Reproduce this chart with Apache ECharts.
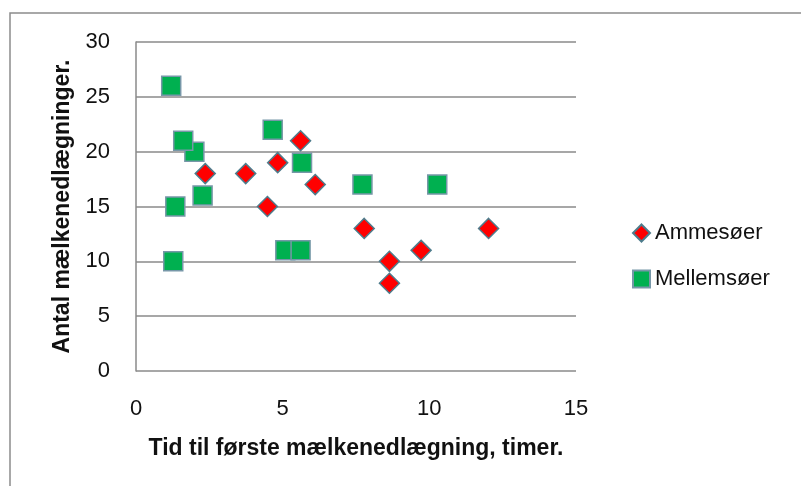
<!DOCTYPE html>
<html>
<head>
<meta charset="utf-8">
<script src="https://cdn.jsdelivr.net/npm/echarts@6/dist/echarts.min.js"></script>
<style>
  html, body { margin: 0; padding: 0; background: #fff; }
  #chart { width: 801px; height: 486px; }
</style>
</head>
<body>
<div id="chart"></div>
<script>
  // data: [timer, antal]
  var seriesNames = ['Ammesøer', 'Mellemsøer'];
  var ammesoer = [
    [2.36, 18], [3.74, 18], [4.83, 19], [5.61, 21], [6.11, 17], [4.48, 15],
    [7.78, 13], [8.64, 10], [8.64, 8], [9.72, 11], [12.02, 13]
  ];
  var mellemsoer = [
    [1.2, 26], [1.99, 20], [1.61, 21], [4.66, 22], [5.66, 19], [2.27, 16],
    [1.34, 15], [1.27, 10], [5.09, 11], [5.61, 11], [7.72, 17], [10.27, 17]
  ];
  var xTicks = [0, 5, 10, 15];
  var yTicks = [0, 5, 10, 15, 20, 25, 30];

  var font = '"Liberation Sans", Arial, sans-serif';
  var gridColor = '#8a8a8a';

  var myChart = echarts.init(document.getElementById('chart'));
  var option = {
    backgroundColor: '#fff',
    animation: false,
    textStyle: { fontFamily: font },
    graphic: [{
      type: 'rect',
      shape: { x: 10, y: 13, width: 800, height: 480 },
      style: { fill: 'none', stroke: '#8c8c8c', lineWidth: 1.5 },
      silent: true
    }],
    grid: { left: 136, right: 225, top: 42, bottom: 115 },
    legend: {
      orient: 'vertical',
      left: 627,
      top: 217,
      itemWidth: 17,
      itemHeight: 17,
      itemGap: 24,
      data: seriesNames,
      textStyle: { fontSize: 22, color: '#111', fontFamily: font }
    },
    xAxis: {
      type: 'value',
      min: xTicks[0],
      max: xTicks[xTicks.length - 1],
      interval: 5,
      name: 'Tid til første mælkenedlægning, timer.',
      nameLocation: 'middle',
      nameGap: 66,
      nameTextStyle: { fontSize: 23, fontWeight: 'bold', color: '#111', fontFamily: font },
      axisLine: { show: false },
      axisTick: { show: false },
      splitLine: { show: false },
      axisLabel: { fontSize: 22, color: '#111', margin: 27 }
    },
    yAxis: {
      type: 'value',
      min: yTicks[0],
      max: yTicks[yTicks.length - 1],
      interval: 5,
      name: 'Antal mælkenedlægninger.',
      nameLocation: 'middle',
      nameGap: 62,
      nameTextStyle: { fontSize: 23, fontWeight: 'bold', color: '#111', fontFamily: font },
      axisLine: { show: true, lineStyle: { color: gridColor, width: 1.5 } },
      axisTick: { show: false },
      splitLine: { show: true, lineStyle: { color: gridColor, width: 1.5 } },
      axisLabel: { fontSize: 22, color: '#111', margin: 26 }
    },
    series: [
      {
        name: seriesNames[0],
        type: 'scatter',
        symbol: 'diamond',
        symbolSize: 20,
        data: ammesoer,
        itemStyle: { color: '#ff0000', borderColor: '#4e7c8c', borderWidth: 1.5, opacity: 1 }
      },
      {
        name: seriesNames[1],
        type: 'scatter',
        symbol: 'rect',
        symbolSize: 19,
        data: mellemsoer,
        itemStyle: { color: '#00b050', borderColor: '#7797a8', borderWidth: 1.5, opacity: 1 }
      }
    ]
  };
  myChart.setOption(option);
</script>
</body>
</html>
